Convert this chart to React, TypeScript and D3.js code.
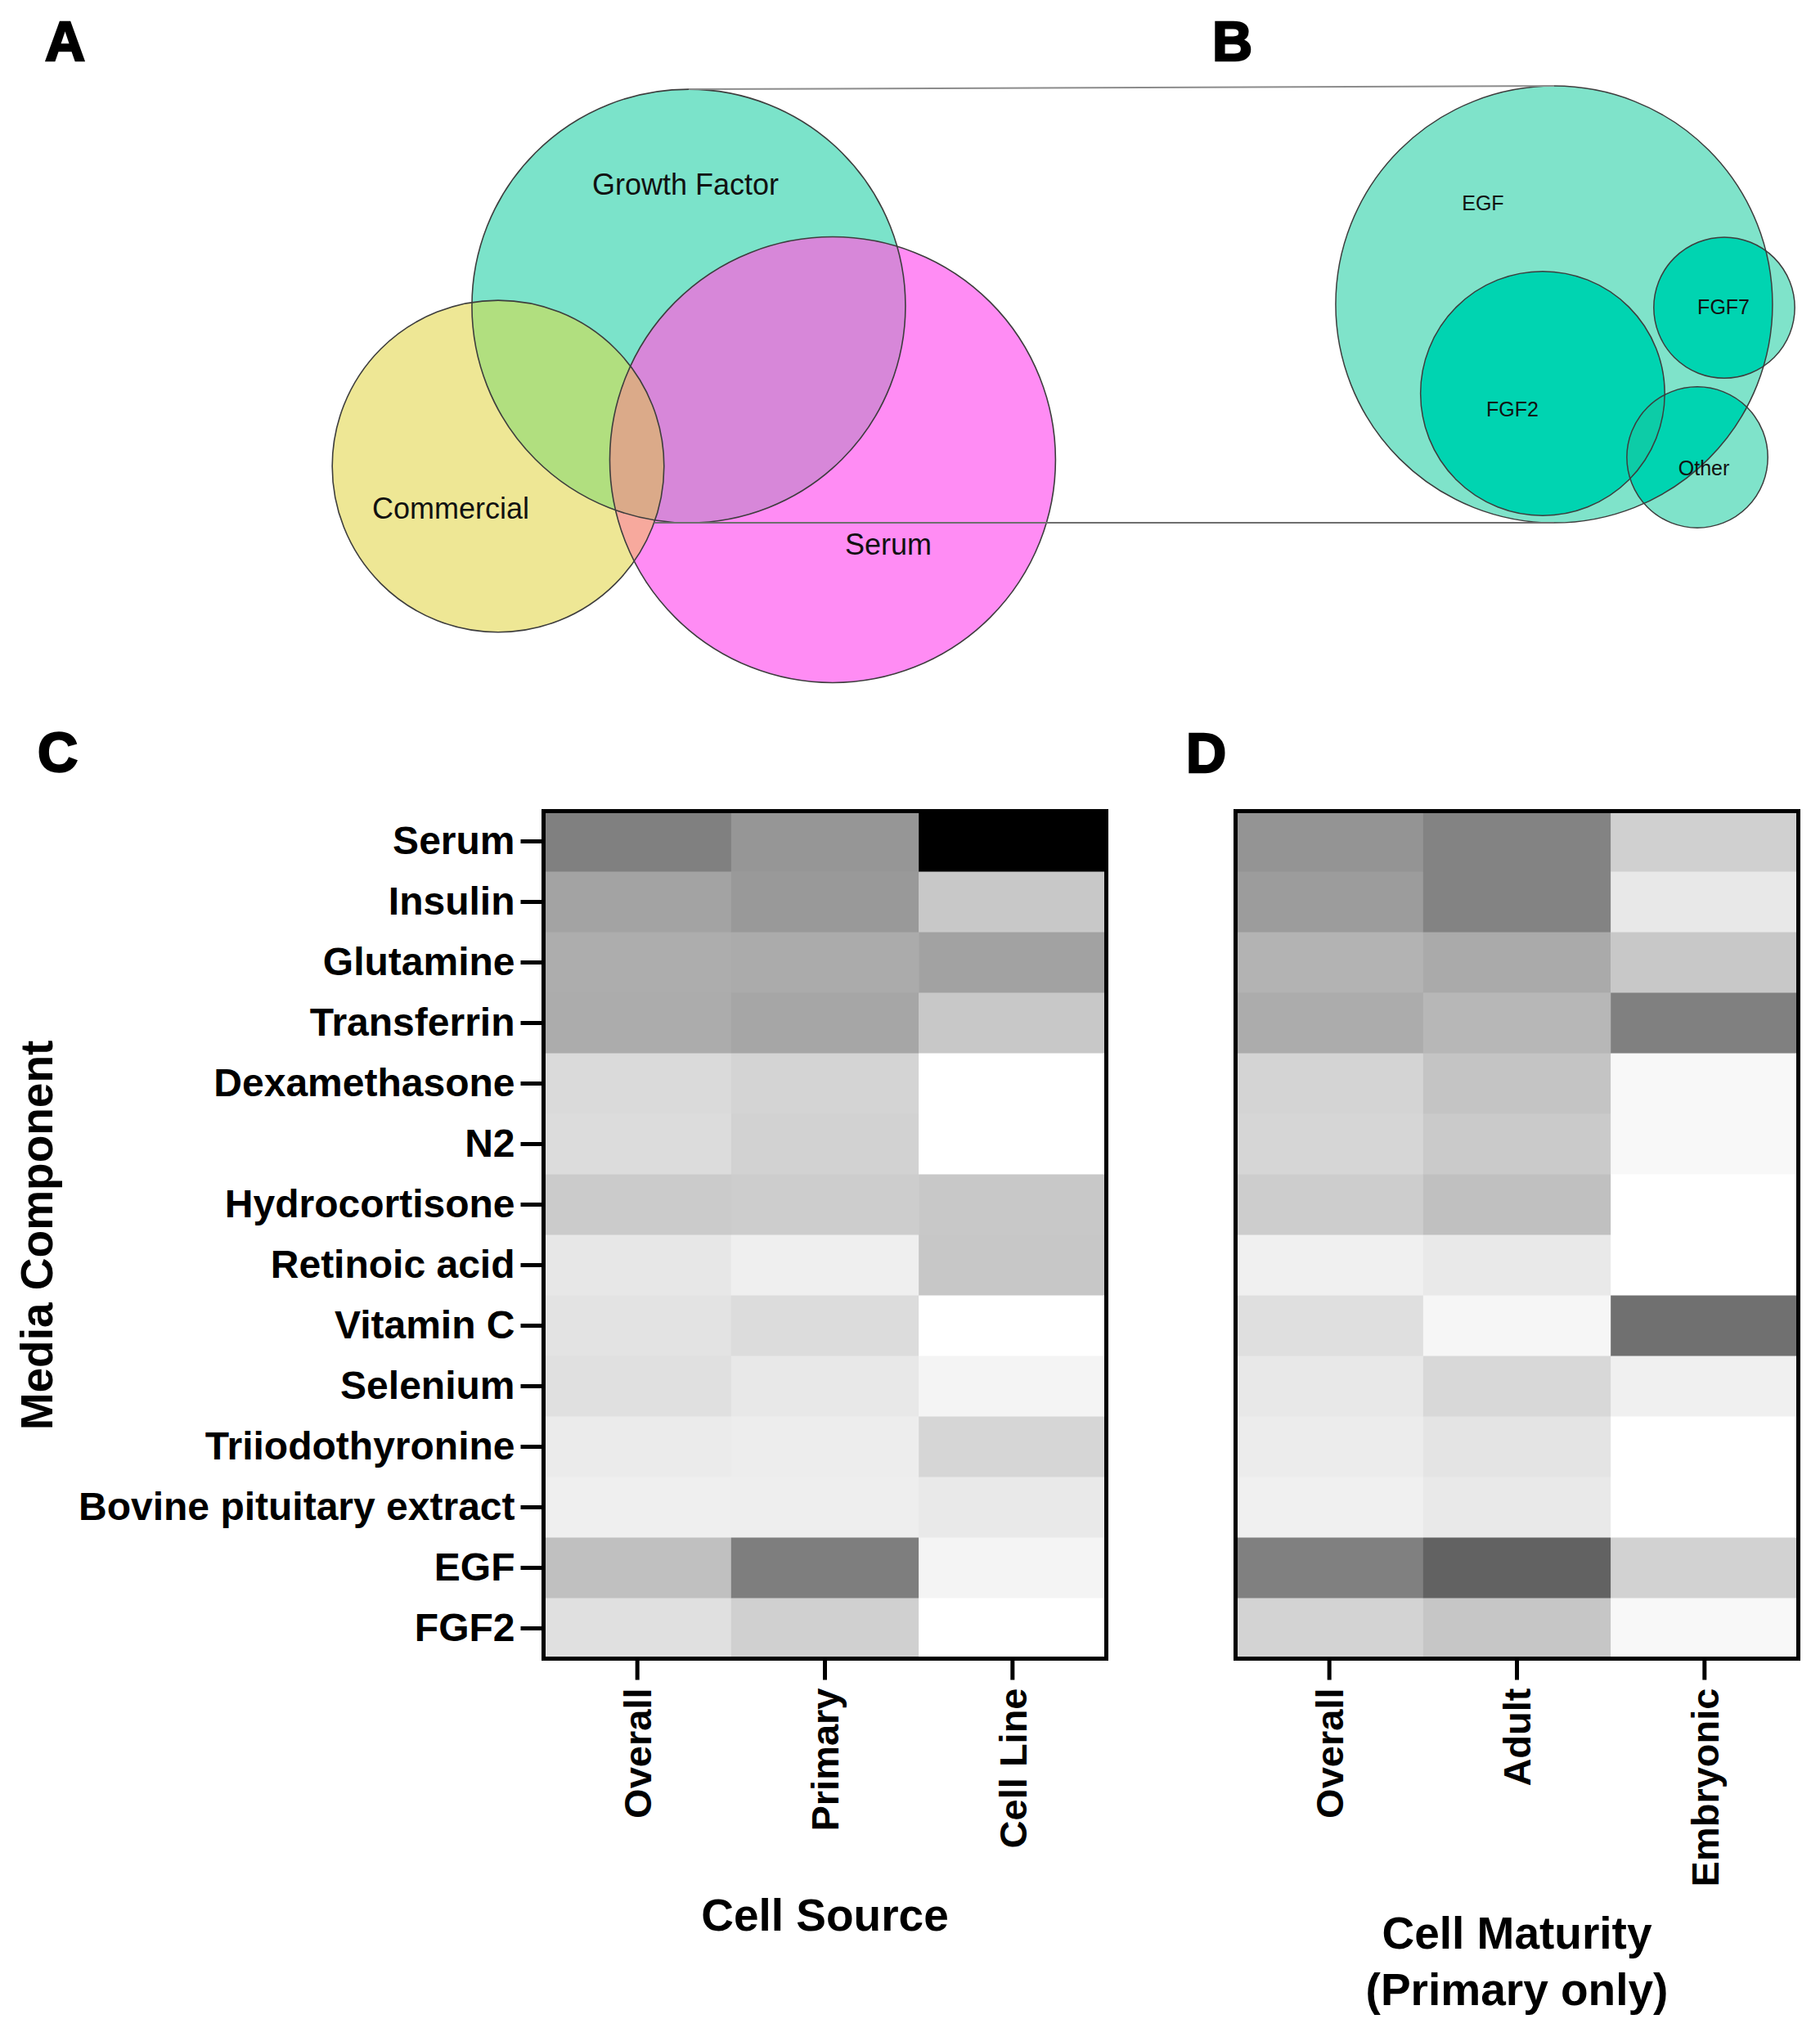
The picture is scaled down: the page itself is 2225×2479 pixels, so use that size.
import React, { useEffect, useRef } from "react";
import * as d3 from "d3";

const W = 2225;
const H = 2479;
const FONT = "'Liberation Sans', Arial, Helvetica, sans-serif";

// ---- panel A : venn of media supplements (layout in % of figure, size = share of studies)
const vennASets = ["Growth Factor", "Commercial", "Serum"];
const vennASizes = [70, 41, 74];
const vennACx = [37.84, 27.37, 45.75];
const vennACy = [15.09, 22.99, 22.67];
const vennALabelX = [37.66, 24.76, 48.81];
const vennALabelY = [9.6, 25.57, 27.35];
const vennAColors = ["#7be3ca", "#eee795", "#ff8cf4"];
const overlapGC = "#b1df7f";
const overlapGS = "#d787d9";
const overlapCS = "#f7a99d";
const overlapGCS = "#dbaa89";

// ---- panel B : growth factor breakdown
const vennBSets = ["EGF", "FGF2", "FGF7", "Other"];
const vennBSizes = [48, 15, 5, 5];
const vennBCx = [85.39, 84.76, 94.74, 93.26];
const vennBCy = [15.01, 19.4, 15.17, 22.55];
const vennBLabelX = [81.48, 83.1, 94.7, 93.62];
const vennBLabelY = [10.37, 20.53, 15.49, 23.44];
const mint = "#7fe3ca";
const teal = "#00d4b1";
const tealOverlap = "#0dcca7";

// ---- heatmaps (% of media containing component)
const components = [
    "Serum", "Insulin", "Glutamine", "Transferrin", "Dexamethasone", "N2", "Hydrocortisone",
    "Retinoic acid", "Vitamin C", "Selenium", "Triiodothyronine", "Bovine pituitary extract", "EGF", "FGF2",
];
const sourceGroups = ["Overall", "Primary", "Cell Line"];
const sourceOverall = [49.8, 36.1, 32.2, 32.5, 14.5, 13.7, 20.4, 9.4, 11.0, 12.2, 7.8, 6.3, 24.7, 12.2];
const sourcePrimary = [41.2, 40.0, 32.9, 34.9, 16.9, 17.6, 19.6, 6.3, 13.7, 9.0, 7.1, 6.7, 50.6, 18.4];
const sourceCellLine = [100, 21.6, 36.5, 21.6, 0, 0, 21.6, 22.0, 0, 4.3, 16.1, 8.6, 4.3, 0];
const maturityGroups = ["Overall", "Adult", "Embryonic"];
const maturityOverall = [42.0, 38.8, 29.8, 32.5, 16.9, 16.1, 19.6, 5.9, 12.5, 9.0, 7.5, 5.9, 49.8, 17.3];
const maturityAdult = [48.6, 48.6, 33.3, 28.2, 23.1, 20.8, 24.7, 8.6, 3.5, 15.3, 10.6, 8.6, 61.6, 22.4];
const maturityEmbryonic = [18.4, 9.0, 21.6, 49.8, 2.7, 2.7, 0, 0, 56.0, 5.9, 0, 0, 17.6, 2.7];

const px = d3.scaleLinear().domain([0, 100]).range([0, W]);
const py = d3.scaleLinear().domain([0, 100]).range([0, H]);
const rA = d3.scaleSqrt().domain([0, 70]).range([0, 265]);
const rB = d3.scaleSqrt().domain([0, 48]).range([0, 267]);
const grey = d3.scaleLinear<string>().domain([0, 100]).range(["#ffffff", "#000000"]);

const BOX_TOP = 991.5;
const BOX_BOTTOM = 2027.5;
const BOX_W = 688;

const PanelLabel = ({x, y, t}: any) => (
    <text x={x} y={y} fontFamily={FONT} fontWeight="bold" fontSize={68} fill="#000"
          stroke="#000" strokeWidth={2.5}>{t}</text>
)

const VennA = () => {
    const c = vennASets.map((name, i) => ({
        name, cx: px(vennACx[i]), cy: py(vennACy[i]), r: rA(vennASizes[i]), fill: vennAColors[i],
    }))
    const [gf, com, ser] = c
    return (
        <g>
            <defs>
                <clipPath id="clip-gf"><circle cx={gf.cx} cy={gf.cy} r={gf.r}/></clipPath>
                <clipPath id="clip-com"><circle cx={com.cx} cy={com.cy} r={com.r}/></clipPath>
            </defs>
            {c.map(d => <circle key={d.name} cx={d.cx} cy={d.cy} r={d.r} fill={d.fill}/>)}
            <g clipPath="url(#clip-gf)"><circle cx={com.cx} cy={com.cy} r={com.r} fill={overlapGC}/></g>
            <g clipPath="url(#clip-gf)"><circle cx={ser.cx} cy={ser.cy} r={ser.r} fill={overlapGS}/></g>
            <g clipPath="url(#clip-com)"><circle cx={ser.cx} cy={ser.cy} r={ser.r} fill={overlapCS}/></g>
            <g clipPath="url(#clip-gf)">
                <g clipPath="url(#clip-com)"><circle cx={ser.cx} cy={ser.cy} r={ser.r} fill={overlapGCS}/></g>
            </g>
            {c.map(d => <circle key={d.name + "-o"} cx={d.cx} cy={d.cy} r={d.r} fill="none"
                                stroke="#3d3d3d" strokeWidth={1.6}/>)}
            {c.map((d, i) => (
                <text key={d.name + "-t"} x={px(vennALabelX[i])} y={py(vennALabelY[i])} textAnchor="middle"
                      fontFamily={FONT} fontSize={36} fill="#111">{d.name}</text>
            ))}
        </g>
    )
}

const VennB = () => {
    const c = vennBSets.map((name, i) => ({
        name, cx: px(vennBCx[i]), cy: py(vennBCy[i]), r: rB(vennBSizes[i]),
    }))
    const [egf, fgf2, , other] = c
    return (
        <g>
            <defs>
                <clipPath id="clip-egf"><circle cx={egf.cx} cy={egf.cy} r={egf.r}/></clipPath>
                <clipPath id="clip-fgf2"><circle cx={fgf2.cx} cy={fgf2.cy} r={fgf2.r}/></clipPath>
            </defs>
            <circle cx={egf.cx} cy={egf.cy} r={egf.r} fill={mint}/>
            {c.slice(1).map(d => (
                <g key={d.name}>
                    <circle cx={d.cx} cy={d.cy} r={d.r} fill={mint}/>
                    <g clipPath="url(#clip-egf)"><circle cx={d.cx} cy={d.cy} r={d.r} fill={teal}/></g>
                </g>
            ))}
            <g clipPath="url(#clip-egf)">
                <g clipPath="url(#clip-fgf2)"><circle cx={other.cx} cy={other.cy} r={other.r} fill={tealOverlap}/></g>
            </g>
            {c.map(d => <circle key={d.name + "-o"} cx={d.cx} cy={d.cy} r={d.r} fill="none"
                                stroke="#3d3d3d" strokeWidth={1.5}/>)}
            {c.map((d, i) => (
                <text key={d.name + "-t"} x={px(vennBLabelX[i])} y={py(vennBLabelY[i])} textAnchor="middle"
                      fontFamily={FONT} fontSize={25} fill="#111">{d.name}</text>
            ))}
        </g>
    )
}

// zoom lines from growth factor circle (A) to the EGF circle (B)
const Connectors = () => {
    const gfx = px(vennACx[0]), gfy = py(vennACy[0]), gfr = rA(vennASizes[0])
    const ex = px(vennBCx[0]), ey = py(vennBCy[0]), er = rB(vennBSizes[0])
    return (
        <g stroke="#8c8c8c" strokeWidth={2}>
            <line x1={gfx} y1={gfy - gfr} x2={ex} y2={ey - er}/>
            <line x1={gfx - gfr * 0.16} y1={gfy + gfr} x2={ex} y2={ey + er} stroke="#6e6e6e"/>
        </g>
    )
}

const Heatmap = ({left, groups, series, showY, titles, titleY}: any) => {
    const xRef = useRef<SVGGElement>(null)
    const yRef = useRef<SVGGElement>(null)
    const x = d3.scaleBand().domain(groups).range([left, left + BOX_W])
    const y = d3.scaleBand().domain(components).range([BOX_TOP, BOX_BOTTOM])

    useEffect(() => {
        const xa = d3.select(xRef.current)
        // @ts-ignore
        xa.call(d3.axisBottom(x).tickSize(26).tickSizeOuter(0))
        xa.select(".domain").remove()
        xa.attr("font-family", null).attr("font-size", null)
        xa.selectAll(".tick line").attr("stroke", "#000").attr("stroke-width", 5)
        xa.selectAll(".tick text")
            .attr("transform", "rotate(-90)")
            .attr("x", -36)
            .attr("y", 0)
            .attr("dy", "0.36em")
            .attr("text-anchor", "end")
            .attr("fill", "#000")
            .style("font-family", FONT)
            .style("font-weight", "bold")
            .style("font-size", "47px")

        if (showY) {
            const ya = d3.select(yRef.current)
            // @ts-ignore
            ya.call(d3.axisLeft(y).tickSize(28).tickPadding(7).tickSizeOuter(0))
            ya.select(".domain").remove()
            ya.attr("font-family", null).attr("font-size", null)
            ya.selectAll(".tick line").attr("stroke", "#000").attr("stroke-width", 5)
            ya.selectAll(".tick text")
                .attr("fill", "#000")
                .style("font-family", FONT)
                .style("font-weight", "bold")
                .style("font-size", "48px")
        }
    }, [])

    const cells: any[] = []
    groups.forEach((g: string, gi: number) => {
        components.forEach((comp, ci) => {
            cells.push({g, comp, v: series[gi][ci]})
        })
    })

    return (
        <g>
            {cells.map(d => (
                <rect key={d.g + d.comp} x={x(d.g)} y={y(d.comp)} width={x.bandwidth() + 0.5}
                      height={y.bandwidth() + 0.5} fill={grey(d.v)}/>
            ))}
            <rect x={left} y={BOX_TOP} width={BOX_W} height={BOX_BOTTOM - BOX_TOP} fill="none"
                  stroke="#000" strokeWidth={5}/>
            <g ref={xRef} transform={`translate(0,${BOX_BOTTOM})`}/>
            <g ref={yRef} transform={`translate(${left},0)`}/>
            {titles.map((t: string, i: number) => (
                <text key={t} x={left + BOX_W / 2} y={titleY + i * 69} textAnchor="middle" fontFamily={FONT}
                      fontWeight="bold" fontSize={55} fill="#000">{t}</text>
            ))}
        </g>
    )
}

const App = () => {
    return (
        <svg width={W} height={H} style={{position: "absolute", left: 0, top: 0, display: "block", background: "#fff"}}>
            <rect width={W} height={H} fill="#fff"/>
            <VennA/>
            <VennB/>
            <Connectors/>
            <PanelLabel x={55} y={74} t="A"/>
            <PanelLabel x={1482} y={74} t="B"/>
            <PanelLabel x={46} y={943} t="C"/>
            <PanelLabel x={1450} y={944} t="D"/>

            <Heatmap left={664.5} groups={sourceGroups} series={[sourceOverall, sourcePrimary, sourceCellLine]}
                     showY={true} titles={["Cell Source"]} titleY={2360}/>
            <Heatmap left={1510.5} groups={maturityGroups}
                     series={[maturityOverall, maturityAdult, maturityEmbryonic]}
                     showY={false} titles={["Cell Maturity", "(Primary only)"]} titleY={2382}/>

            <text transform="translate(64,1510) rotate(-90)" textAnchor="middle" fontFamily={FONT}
                  fontWeight="bold" fontSize={55} fill="#000">Media Component</text>
        </svg>
    )
}

export default App;
